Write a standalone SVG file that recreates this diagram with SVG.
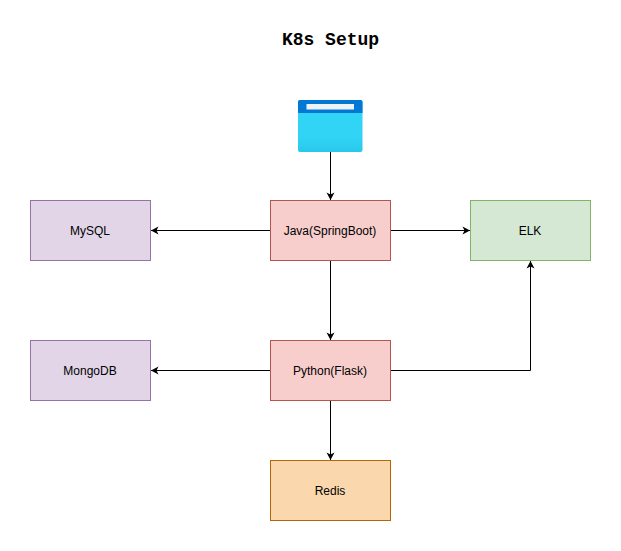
<svg xmlns="http://www.w3.org/2000/svg" width="621" height="551" viewBox="0 0 621 551">
<style>
.box{stroke-width:1}
.purple{fill:#e1d5e7;stroke:#9673a6}
.red{fill:#f8cecc;stroke:#b85450}
.green{fill:#d5e8d4;stroke:#82b366}
.orange{fill:#fad7ac;stroke:#b46504}
text{font-family:"Liberation Sans",Arial,sans-serif;font-size:12px;fill:#000;text-anchor:middle}
.title{font-family:"Liberation Mono","Courier New",monospace;font-size:18px;font-weight:bold}
.edge{fill:none;stroke:#000;stroke-width:1;marker-end:url(#arrow)}
</style>
<defs>
<marker id="arrow" markerUnits="userSpaceOnUse" markerWidth="10" markerHeight="10" refX="8" refY="5" orient="auto">
<path d="M0.500 1 L8 5 L0.500 9 L2.500 5 Z" fill="#000"/>
</marker>
<linearGradient id="win" x1="0" y1="0" x2="0" y2="1"><stop offset="0" stop-color="#32d4f5"/><stop offset="0.7" stop-color="#32d4f5"/><stop offset="1" stop-color="#28c8ea"/></linearGradient>
</defs>
<rect width="621" height="551" fill="#fff"/>
<text class="title" x="330.500" y="45">K8s Setup</text>
<g id="connectors">
<path class="edge" d="M330.500 152V200"/>
<path class="edge" d="M270.500 230.500H151"/>
<path class="edge" d="M390.500 230.500H470"/>
<path class="edge" d="M330.500 260.500V340"/>
<path class="edge" d="M270.500 370.500H151"/>
<path class="edge" d="M390.500 370.500H530.500V261"/>
<path class="edge" d="M330.500 400.500V460"/>
</g>
<g id="webapp">
<rect x="298" y="100" width="64.500" height="52" rx="2" fill="url(#win)"/>
<path d="M298 113V102a2 2 0 0 1 2-2h60.500a2 2 0 0 1 2 2V113Z" fill="#0078d4"/>
<rect x="306.500" y="104" width="47.500" height="5.500" fill="#eef1f6"/>
</g>
<g id="mysql"><rect class="box purple" x="30.500" y="200.500" width="120" height="60"/><text x="90" y="234.500">MySQL</text></g>
<g id="java"><rect class="box red" x="270.500" y="200.500" width="120" height="60"/><text x="330" y="234.500">Java(SpringBoot)</text></g>
<g id="elk"><rect class="box green" x="470.500" y="200.500" width="120" height="60"/><text x="530" y="234.500">ELK</text></g>
<g id="mongodb"><rect class="box purple" x="30.500" y="340.500" width="120" height="60"/><text x="90" y="374.500">MongoDB</text></g>
<g id="python"><rect class="box red" x="270.500" y="340.500" width="120" height="60"/><text x="330" y="374.500">Python(Flask)</text></g>
<g id="redis"><rect class="box orange" x="270.500" y="460.500" width="120" height="60"/><text x="330" y="494.500">Redis</text></g>
</svg>
